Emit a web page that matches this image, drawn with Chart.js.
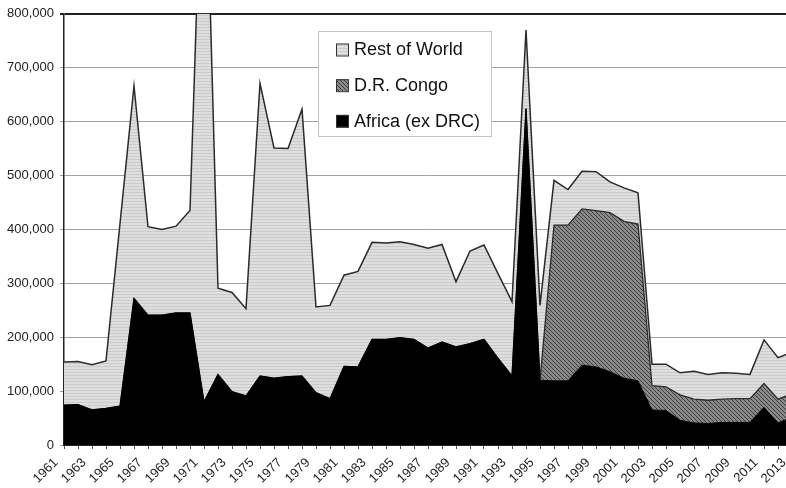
<!DOCTYPE html>
<html><head><meta charset="utf-8">
<script src="https://cdn.jsdelivr.net/npm/chart.js@4.4.1/dist/chart.umd.min.js"></script>
<style>
html,body{margin:0;padding:0;background:#fff;overflow:hidden;width:786px;height:488px;}
#wrap{position:absolute;left:0;top:0;width:800px;height:488px;}
</style></head><body>
<div id="wrap"><canvas id="c"></canvas></div>
<script>
const years = ['1961','1962','1963','1964','1965','1966','1967','1968','1969','1970',
  '1971','1972','1973','1974','1975','1976','1977','1978','1979','1980',
  '1981','1982','1983','1984','1985','1986','1987','1988','1989','1990',
  '1991','1992','1993','1994','1995','1996','1997','1998','1999','2000',
  '2001','2002','2003','2004','2005','2006','2007','2008','2009','2010',
  '2011','2012','2013'];

const africaExDRC = [74000,75000,65000,68000,72000,272000,241000,241000,245000,245000,
  80000,131000,99000,91000,128000,124000,127000,128000,97000,86000,
  146000,145000,196000,196000,199000,196000,180000,191000,182000,188000,
  196000,161000,128000,624000,120000,119000,119000,148000,145000,136000,
  124000,119000,65000,64000,46000,41000,40000,42000,42000,42000,
  70000,41000,52000];

const drCongo = [0,0,0,0,0,0,0,0,0,0,
  0,0,0,0,0,0,0,0,0,0,
  0,0,0,0,0,0,0,0,0,0,
  0,0,0,0,0,289000,289000,290000,290000,295000,
  291000,291000,45000,44000,47000,44000,43000,43000,44000,44000,
  44000,44000,43000];

const restOfWorld = [80000,80000,84000,88000,339000,394000,164000,159000,161000,190000,
  1150000,160000,184000,162000,543000,427000,423000,495000,159000,173000,
  169000,177000,180000,179000,178000,176000,185000,181000,121000,172000,
  175000,157000,138000,146000,139000,83000,66000,70000,72000,57000,
  62000,58000,40000,42000,41000,52000,48000,49000,47000,45000,
  81000,77000,77000];

const seriesLabels = ['Africa (ex DRC)', 'D.R. Congo', 'Rest of World'];
const yMin = 0, yMax = 800000, yStep = 100000;

function patternRest(){
  const c=document.createElement('canvas'); c.width=4; c.height=3;
  const x=c.getContext('2d');
  x.fillStyle='#dedede'; x.fillRect(0,0,4,3);
  x.fillStyle='#cbcbcb'; x.fillRect(0,0,4,1);
  return x.createPattern(c,'repeat');
}
function patternDRC(){
  const c=document.createElement('canvas'); c.width=4; c.height=4;
  const x=c.getContext('2d');
  x.fillStyle='#8a8a8a'; x.fillRect(0,0,4,4);
  x.fillStyle='#3c3c3c';
  for(let i=0;i<4;i++){ x.fillRect(i,i,1,1); }
  return x.createPattern(c,'repeat');
}
const patRest = patternRest();
const patDRC = patternDRC();

const boxLegend = {
  id:'boxLegend',
  afterDraw(chart){
    const ctx=chart.ctx;
    const bx=318.5, by=31.5, bw=173, bh=105;
    ctx.save();
    ctx.fillStyle='#ffffff'; ctx.fillRect(bx,by,bw,bh);
    ctx.strokeStyle='#c4c4c4'; ctx.lineWidth=1; ctx.strokeRect(bx,by,bw,bh);
    const ds=chart.data.datasets.slice().reverse();
    ds.forEach((d,i)=>{
      const cy=49.5+i*35.7;
      ctx.fillStyle=d.backgroundColor; ctx.fillRect(336,cy-6,12,12);
      ctx.strokeStyle='#333'; ctx.lineWidth=1; ctx.strokeRect(336.5,cy-5.5,12,12);
      ctx.fillStyle='#111'; ctx.font='18px "Liberation Sans", Arial, sans-serif';
      ctx.textBaseline='middle'; ctx.textAlign='left';
      ctx.fillText(d.label,354,cy+1);
    });
    ctx.restore();
  }
};

new Chart(document.getElementById('c'), {
  type:'line',
  data:{
    labels: years,
    datasets:[
      {label:seriesLabels[0], data:africaExDRC, backgroundColor:'#000000', borderColor:'#000000', borderWidth:1, fill:'origin', pointRadius:0, tension:0},
      {label:seriesLabels[1], data:drCongo, backgroundColor:patDRC, borderColor:'#2a2a2a', borderWidth:1.3, fill:'-1', pointRadius:0, tension:0},
      {label:seriesLabels[2], data:restOfWorld, backgroundColor:patRest, borderColor:'#2a2a2a', borderWidth:1.5, fill:'-1', pointRadius:0, tension:0}
    ]
  },
  options:{
    responsive:true, maintainAspectRatio:false, animation:false, devicePixelRatio:1,
    layout:{padding:{top:13,right:8,left:0,bottom:0}},
    plugins:{legend:{display:false}, tooltip:{enabled:false}},
    scales:{
      x:{
        type:'category', offset:false,
        grid:{drawOnChartArea:false, drawTicks:true, tickLength:4, color:'#555'},
        border:{display:true, color:'#222', width:1},
        ticks:{autoSkip:false, maxRotation:45, minRotation:45, padding:6, labelOffset:-8, color:'#222',
          font:{family:'"Liberation Sans", Arial, sans-serif', size:13},
          callback:(v,i)=> i%2===0 ? years[i] : ''},
        afterFit:(s)=>{ s.height = 43; s.paddingLeft = 0; s.paddingRight = 0; }
      },
      y:{
        stacked:true, min:yMin, max:yMax,
        grid:{tickLength:4,
          color:(c)=> (c.tick && c.tick.value===yMax) ? '#222' : '#a0a0a0',
          lineWidth:(c)=> (c.tick && c.tick.value===yMax) ? 2 : 1},
        border:{display:true, color:'#222', width:1.5},
        ticks:{stepSize:yStep, padding:6, color:'#222',
          font:{family:'"Liberation Sans", Arial, sans-serif', size:13}},
        afterFit:(s)=>{ s.width = 64; }
      }
    }
  },
  plugins:[boxLegend]
});
</script>
</body></html>
